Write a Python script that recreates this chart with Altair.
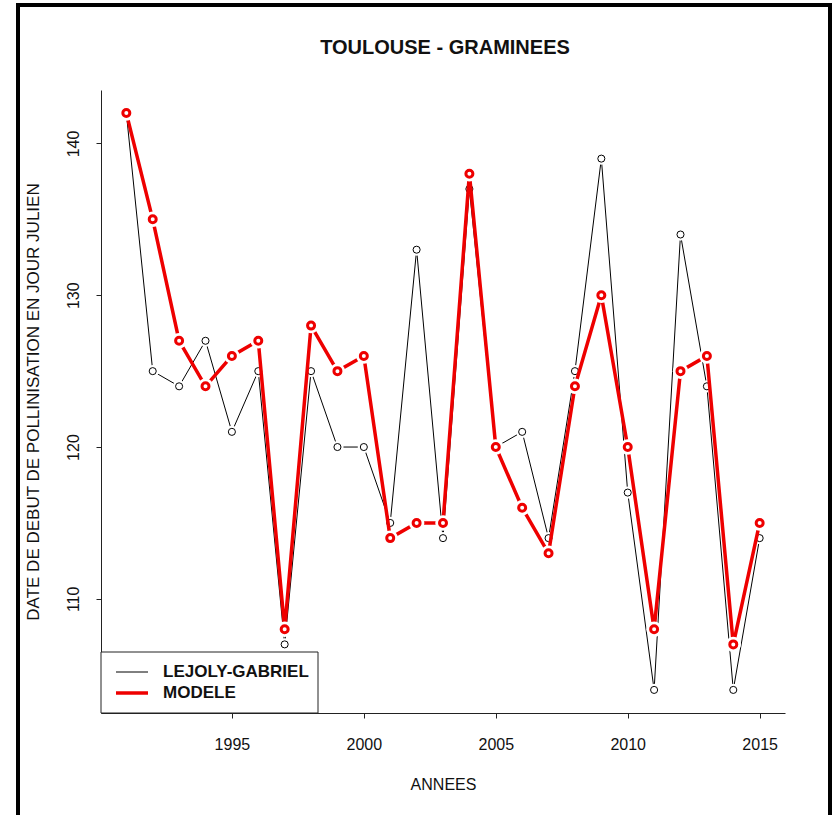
import altair as alt
import pandas as pd

# Pollen season start (Julian day) for grasses in Toulouse
annees = list(range(1991, 2016))
lejoly_gabriel = [142, 125, 124, 127, 121, 125, 107, 125, 120, 120, 115, 133, 114,
                  137, 120, 121, 114, 125, 139, 117, 104, 134, 124, 104, 114]
modele = [142, 135, 127, 124, 126, 127, 108, 128, 125, 126, 114, 115, 115,
          138, 120, 116, 113, 124, 130, 120, 108, 125, 126, 107, 115]

series_names = ["LEJOLY-GABRIEL", "MODELE"]
series_colors = ["#000000", "#ee0000"]
x_ticks = [1995, 2000, 2005, 2010, 2015]
y_ticks = [110, 120, 130, 140]
titre = "TOULOUSE - GRAMINEES"

df = pd.DataFrame({"annee": annees, "lejoly": lejoly_gabriel, "modele": modele})
one = pd.DataFrame({"k": [0]})

W, H = 684, 623
FONT = "Liberation Sans"

# R-style 4% padding around the data range
x_scale = alt.Scale(domain=[1990.04, 2015.96], nice=False, zero=False)
y_scale = alt.Scale(domain=[102.48, 143.52], nice=False, zero=False)

x_axis = alt.Axis(values=x_ticks, format="d", title="ANNEES", grid=False,
                  domainColor="#222222", tickColor="#222222", tickSize=5,
                  labelFont=FONT, labelFontSize=16, labelColor="#111111",
                  labelBaseline="middle", labelPadding=26,
                  titleFont=FONT, titleFontSize=16, titleFontWeight="normal",
                  titleColor="#111111", titleBaseline="middle", titleY=71)
y_axis = alt.Axis(values=y_ticks, format="d",
                  title="DATE DE DEBUT DE POLLINISATION EN JOUR JULIEN", grid=False,
                  domainColor="#222222", tickColor="#222222", tickSize=5,
                  labelFont=FONT, labelFontSize=16, labelColor="#111111",
                  labelAngle=270, labelAlign="center", labelBaseline="middle",
                  labelPadding=23,
                  titleFont=FONT, titleFontSize=17, titleFontWeight="normal",
                  titleColor="#111111", titleAngle=270, titleBaseline="middle",
                  titleX=-68)

base = alt.Chart(df)
X = alt.X("annee:Q", scale=x_scale, axis=x_axis)


def series_layers(field, color, line_w, pt_size, pt_stroke, halo_size):
    y = alt.Y(f"{field}:Q", scale=y_scale, axis=y_axis)
    line = base.mark_line(color=color, strokeWidth=line_w).encode(x=X, y=y)
    halo = base.mark_point(shape="circle", filled=True, color="white",
                           opacity=1, size=halo_size).encode(x=X, y=y)
    pts = base.mark_point(shape="circle", filled=False, color=color, opacity=1,
                          size=pt_size, strokeWidth=pt_stroke).encode(x=X, y=y)
    return [line, halo, pts]


black = series_layers("lejoly", series_colors[0], 1, 50, 1, 150)
red = series_layers("modele", series_colors[1], 3.5, 49, 3, 240)

# outer frame around the figure
frame = alt.Chart(one).mark_rect(fillOpacity=0, stroke="black", strokeWidth=4,
                                 clip=False).encode(
    x=alt.value(-83), x2=alt.value(729), y=alt.value(-85), y2=alt.value(760))

# chart title above the plot area
title = alt.Chart(one).mark_text(
    text=titre, align="center", baseline="alphabetic", font=FONT, fontSize=20,
    fontWeight="bold", color="#111111").encode(x=alt.value(W / 2 + 2), y=alt.value(-36))

# legend in the bottom-left corner of the plot
leg_box = alt.Chart(one).mark_rect(fill="white", stroke="#222222", strokeWidth=1).encode(
    x=alt.value(0), x2=alt.value(217), y=alt.value(562), y2=alt.value(623))
leg_rows = [(series_names[0], series_colors[0], 1, 582),
            (series_names[1], series_colors[1], 3.5, 603)]
leg_layers = [leg_box]
for name, col, sw, yy in leg_rows:
    leg_layers.append(alt.Chart(one).mark_rule(color=col, strokeWidth=sw).encode(
        x=alt.value(15), x2=alt.value(47), y=alt.value(yy)))
    leg_layers.append(alt.Chart(one).mark_text(
        text=name, align="left", baseline="middle", font=FONT, fontSize=17,
        fontWeight="bold", color="#111111").encode(x=alt.value(62), y=alt.value(yy)))

chart = alt.layer(frame, title, *black, *red, *leg_layers).properties(
    width=W, height=H,
    background="white",
    autosize=alt.AutoSizeParams(type="none"),
    padding={"left": 101, "top": 90, "right": 47, "bottom": 102},
).configure_view(strokeWidth=0, strokeOpacity=0)

chart.save("out.html", embed_options={"renderer": "svg", "actions": False})
